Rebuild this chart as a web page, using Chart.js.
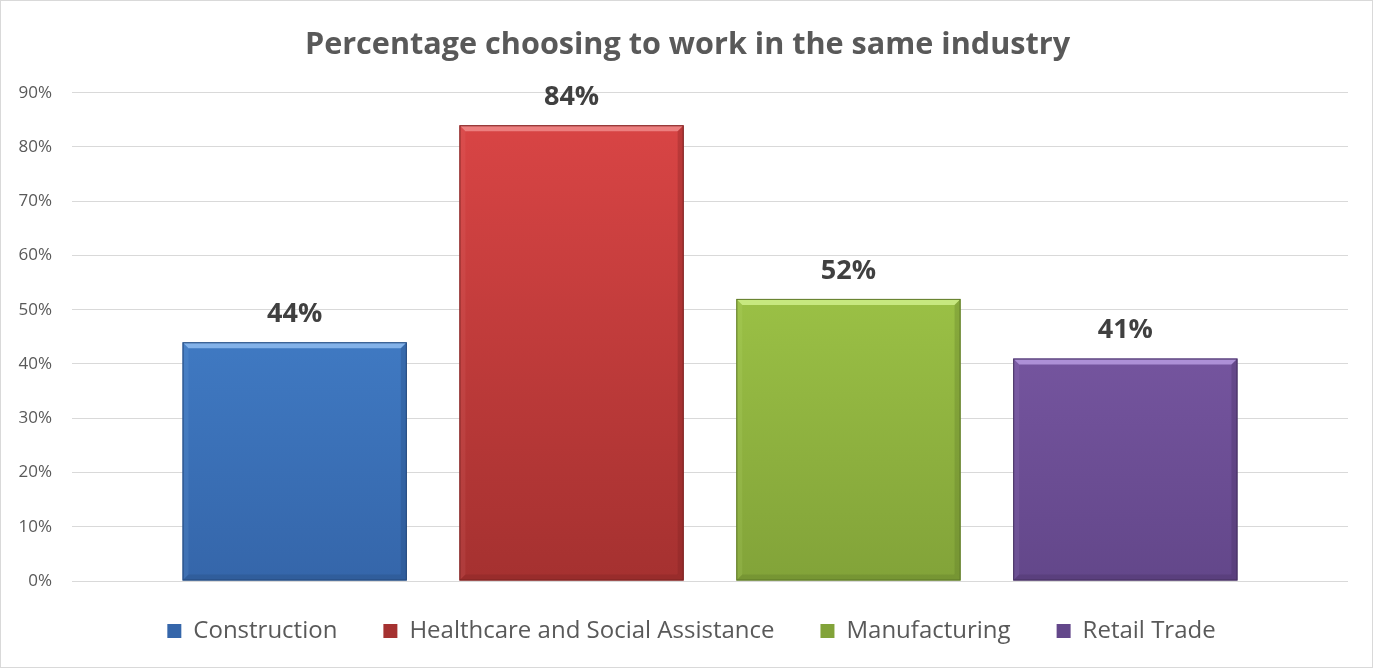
<!DOCTYPE html>
<html lang="en">
<head>
  <meta charset="UTF-8">
  <title>Percentage choosing to work in the same industry</title>
  <script src="https://cdn.jsdelivr.net/npm/chart.js"></script>
  <style>
    html, body { margin: 0; padding: 0; background: #fff; }
    #wrap {
      width: 1371px;
      height: 666px;
      border: 1px solid #d9d9d9;
    }
  </style>
</head>
<body>
  <div id="wrap">
    <canvas id="chart" width="1371" height="666"></canvas>
  </div>
  <script>
    // data
    const industries = ["Construction", "Healthcare and Social Assistance", "Manufacturing", "Retail Trade"];
    const shares = [44, 84, 52, 41];
    const yTicks = [0, 10, 20, 30, 40, 50, 60, 70, 80, 90];

    // colours: top / bottom of gradient, bevel light, edge dark
    const topColors = ["#4a8ddb", "#dc4646", "#acd54e", "#8964b6"];
    const bottomColors = ["#3566aa", "#a53130", "#82a339", "#63478a"];
    const lightColors = ["#8fbcf0", "#f08a8a", "#cfee8a", "#b79be0"];
    const darkColors = ["#24487a", "#7a2222", "#5d7728", "#44305f"];

    const FONT = "'Open Sans', 'Liberation Sans', sans-serif";

    // vertical gradient per bar
    const barFill = (i) => (ctx) => {
      const chart = ctx.chart;
      const area = chart.chartArea;
      if (!area) return topColors[i];
      const el = ctx.element;
      const yTop = el && el.y !== undefined ? el.y : area.top;
      const yBot = el && el.base !== undefined ? el.base : area.bottom;
      const g = chart.ctx.createLinearGradient(0, yTop, 0, yBot);
      g.addColorStop(0, topColors[i]);
      g.addColorStop(1, bottomColors[i]);
      return g;
    };

    // nudge title and legend into place (legend padding is also the item spacing)
    const nudgeBoxes = {
      id: "nudgeBoxes",
      afterLayout(chart) {
        if (chart.titleBlock) {
          chart.titleBlock.left += 13;
          chart.titleBlock.right += 13;
        }
        if (chart.legend) {
          chart.legend.top -= 8;
          chart.legend.bottom -= 8;
          chart.legend.left += 17;
          chart.legend.right += 17;
        }
      }
    };

    // bevel look + value labels drawn on top of the bars
    const bevelAndLabels = {
      id: "bevelAndLabels",
      afterDatasetsDraw(chart) {
        const c = chart.ctx;
        chart.data.datasets.forEach((ds, i) => {
          const meta = chart.getDatasetMeta(i);
          meta.data.forEach((bar, j) => {
            const left = bar.x - bar.width / 2;
            const right = bar.x + bar.width / 2;
            const top = bar.y;
            const bottom = bar.base;
            const b = 6;
            c.save();
            // top bevel
            c.fillStyle = lightColors[i];
            c.globalAlpha = 0.85;
            c.beginPath();
            c.moveTo(left, top);
            c.lineTo(right, top);
            c.lineTo(right - b, top + b);
            c.lineTo(left + b, top + b);
            c.closePath();
            c.fill();
            // left bevel (faint)
            c.globalAlpha = 0.12;
            c.beginPath();
            c.moveTo(left, top);
            c.lineTo(left + b, top + b);
            c.lineTo(left + b, bottom - b);
            c.lineTo(left, bottom);
            c.closePath();
            c.fill();
            // right + bottom shade
            c.fillStyle = darkColors[i];
            c.globalAlpha = 0.3;
            c.beginPath();
            c.moveTo(right, top);
            c.lineTo(right, bottom);
            c.lineTo(right - b, bottom - b);
            c.lineTo(right - b, top + b);
            c.closePath();
            c.fill();
            c.beginPath();
            c.moveTo(left, bottom);
            c.lineTo(right, bottom);
            c.lineTo(right - b, bottom - b);
            c.lineTo(left + b, bottom - b);
            c.closePath();
            c.fill();
            // outline
            c.globalAlpha = 1;
            c.strokeStyle = darkColors[i];
            c.lineWidth = 1;
            c.strokeRect(left + 0.5, top + 0.5, bar.width - 1, bottom - top - 1);
            // value label
            c.fillStyle = "#404040";
            c.font = "bold 27px " + FONT;
            c.textAlign = "center";
            c.textBaseline = "middle";
            c.fillText(ds.data[j] + "%", bar.x, top - 28);
            c.restore();
          });
        });
      }
    };

    const datasets = industries.map((name, i) => ({
      label: name,
      data: [shares[i]],
      backgroundColor: barFill(i),
      borderWidth: 0
    }));

    new Chart(document.getElementById("chart"), {
      type: "bar",
      data: { labels: [""], datasets: datasets },
      options: {
        responsive: false,
        animation: false,
        categoryPercentage: 0.868,
        barPercentage: 0.81,
        layout: { padding: { left: 0, right: 24, top: 0, bottom: 6 } },
        scales: {
          x: { display: false },
          y: {
            min: 0,
            max: 90,
            afterBuildTicks: (scale) => { scale.ticks = yTicks.map(v => ({ value: v })); },
            afterFit: (scale) => { scale.width = 71; },
            grid: { color: "#d9d9d9", lineWidth: 1, drawTicks: false },
            border: { display: false },
            ticks: {
              padding: 20,
              color: "#595959",
              font: { family: FONT, size: 17 },
              callback: (v) => v + "%"
            }
          }
        },
        plugins: {
          title: {
            display: true,
            text: "Percentage choosing to work in the same industry",
            color: "#595959",
            font: { family: FONT, size: 30.6, weight: "bold" },
            padding: { top: 26, bottom: 29 }
          },
          legend: {
            position: "bottom",
            labels: {
              color: "#595959",
              font: { family: FONT, size: 24 },
              boxWidth: 14,
              boxHeight: 14,
              padding: 46
            }
          },
          tooltip: { enabled: false }
        }
      },
      plugins: [bevelAndLabels, nudgeBoxes]
    });
  </script>
</body>
</html>
